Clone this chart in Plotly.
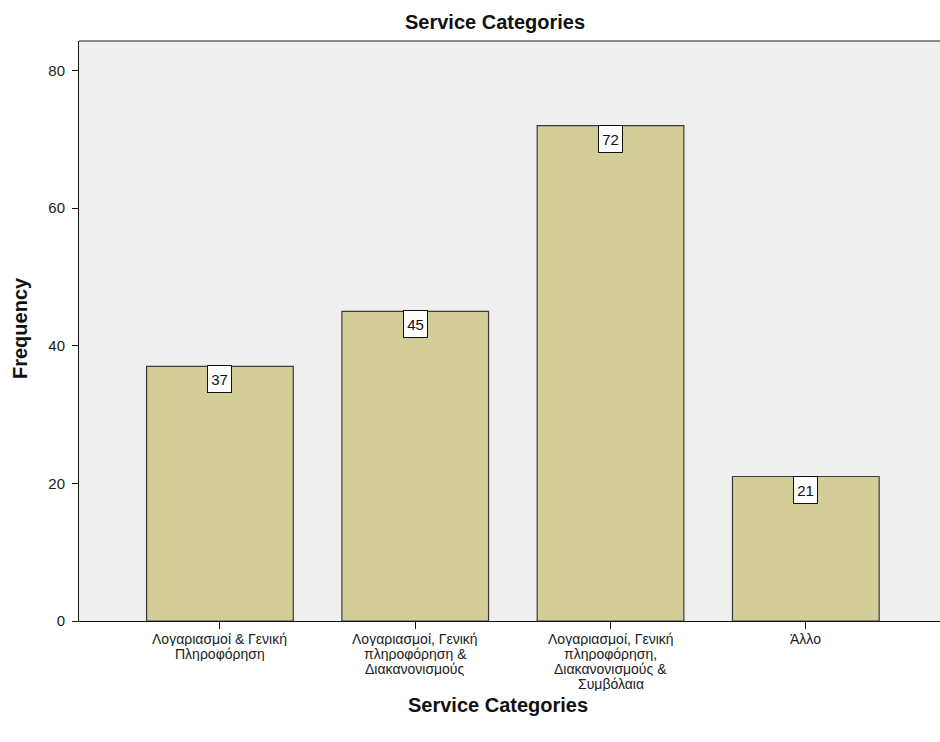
import plotly.graph_objects as go

categories = [
    "Λογαριασμοί & Γενική<br>Πληροφόρηση",
    "Λογαριασμοί, Γενική<br>πληροφόρηση &<br>Διακανονισμούς",
    "Λογαριασμοί, Γενική<br>πληροφόρηση,<br>Διακανονισμούς &<br>Συμβόλαια",
    "Άλλο",
]
frequencies = [37, 45, 72, 21]
y_ticks = [0, 20, 40, 60, 80]

FONT = "Liberation Sans, Arial, sans-serif"
W, H = 940, 742
L, R, T, B = 79, 0, 41, 121
positions = list(range(len(categories)))
pw = W - L - R
ph = H - T - B
axis_y = T + ph  # pixel row of x axis


def px_x(p):
    return (p - L) / pw


def px_y(p):
    return 1 - (p - T) / ph


fig = go.Figure()
fig.add_trace(go.Bar(
    x=positions, y=frequencies, width=0.751,
    marker=dict(color="#d3ce97", line=dict(color="#3a3a3a", width=1.2)),
    hoverinfo="skip",
))

# value labels
for xi, v in zip(positions, frequencies):
    fig.add_annotation(
        x=xi, y=v, xref="x", yref="y", text=str(v), showarrow=False,
        xanchor="center", yanchor="top", yshift=1, width=21, height=24,
        font=dict(family=FONT, size=15, color="#111"),
        bgcolor="white", bordercolor="#111", borderwidth=1, borderpad=1,
    )

# category labels (tight SPSS-like line spacing)
for xi, lab in zip(positions, categories):
    for k, line in enumerate(lab.split("<br>")):
        fig.add_annotation(
            x=xi, y=0, xref="x", yref="paper", text=line, showarrow=False,
            xanchor="center", yanchor="middle", yshift=-(638 + 15 * k - axis_y),
            height=15,
            font=dict(family=FONT, size=14, color="#222"),
        )

fig.add_annotation(x=px_x(495), y=px_y(22), xref="paper", yref="paper",
                   xanchor="center", yanchor="middle",
                   text="<b>Service Categories</b>", showarrow=False,
                   font=dict(family=FONT, size=20, color="#111"))
fig.add_annotation(x=px_x(498), y=px_y(705), xref="paper", yref="paper",
                   xanchor="center", yanchor="middle",
                   text="<b>Service Categories</b>", showarrow=False,
                   font=dict(family=FONT, size=20, color="#111"))
fig.add_annotation(x=px_x(20), y=px_y(328), xref="paper", yref="paper",
                   xanchor="center", yanchor="middle",
                   text="<b>Frequency</b>", textangle=-90, showarrow=False,
                   font=dict(family=FONT, size=20, color="#111"))

fig.add_shape(type="line", xref="paper", yref="paper", x0=0, x1=1, y0=1, y1=1,
              line=dict(color="#8a8a8a", width=2))

fig.update_layout(
    width=W, height=H,
    margin=dict(l=L, r=R, t=T, b=B, pad=0),
    paper_bgcolor="white", plot_bgcolor="#efefef",
    showlegend=False,
    xaxis=dict(
        range=[-0.7216, 3.687], tickmode="array", tickvals=positions,
        showticklabels=False,
        showgrid=False, zeroline=False, showline=True, linecolor="#111", linewidth=1,
        ticks="outside", ticklen=7, tickcolor="#111", fixedrange=True,
    ),
    yaxis=dict(
        range=[0, 84.3], tickvals=y_ticks,
        showgrid=False, zeroline=False, showline=True, linecolor="#111", linewidth=1,
        ticks="outside", ticklen=6, tickcolor="#111", ticklabelstandoff=4,
        tickfont=dict(family=FONT, size=15, color="#222"), fixedrange=True,
    ),
)

fig.write_html("out.html", config={"displayModeBar": False},
               post_script="document.body.style.margin='0';document.body.style.overflow='hidden';")
